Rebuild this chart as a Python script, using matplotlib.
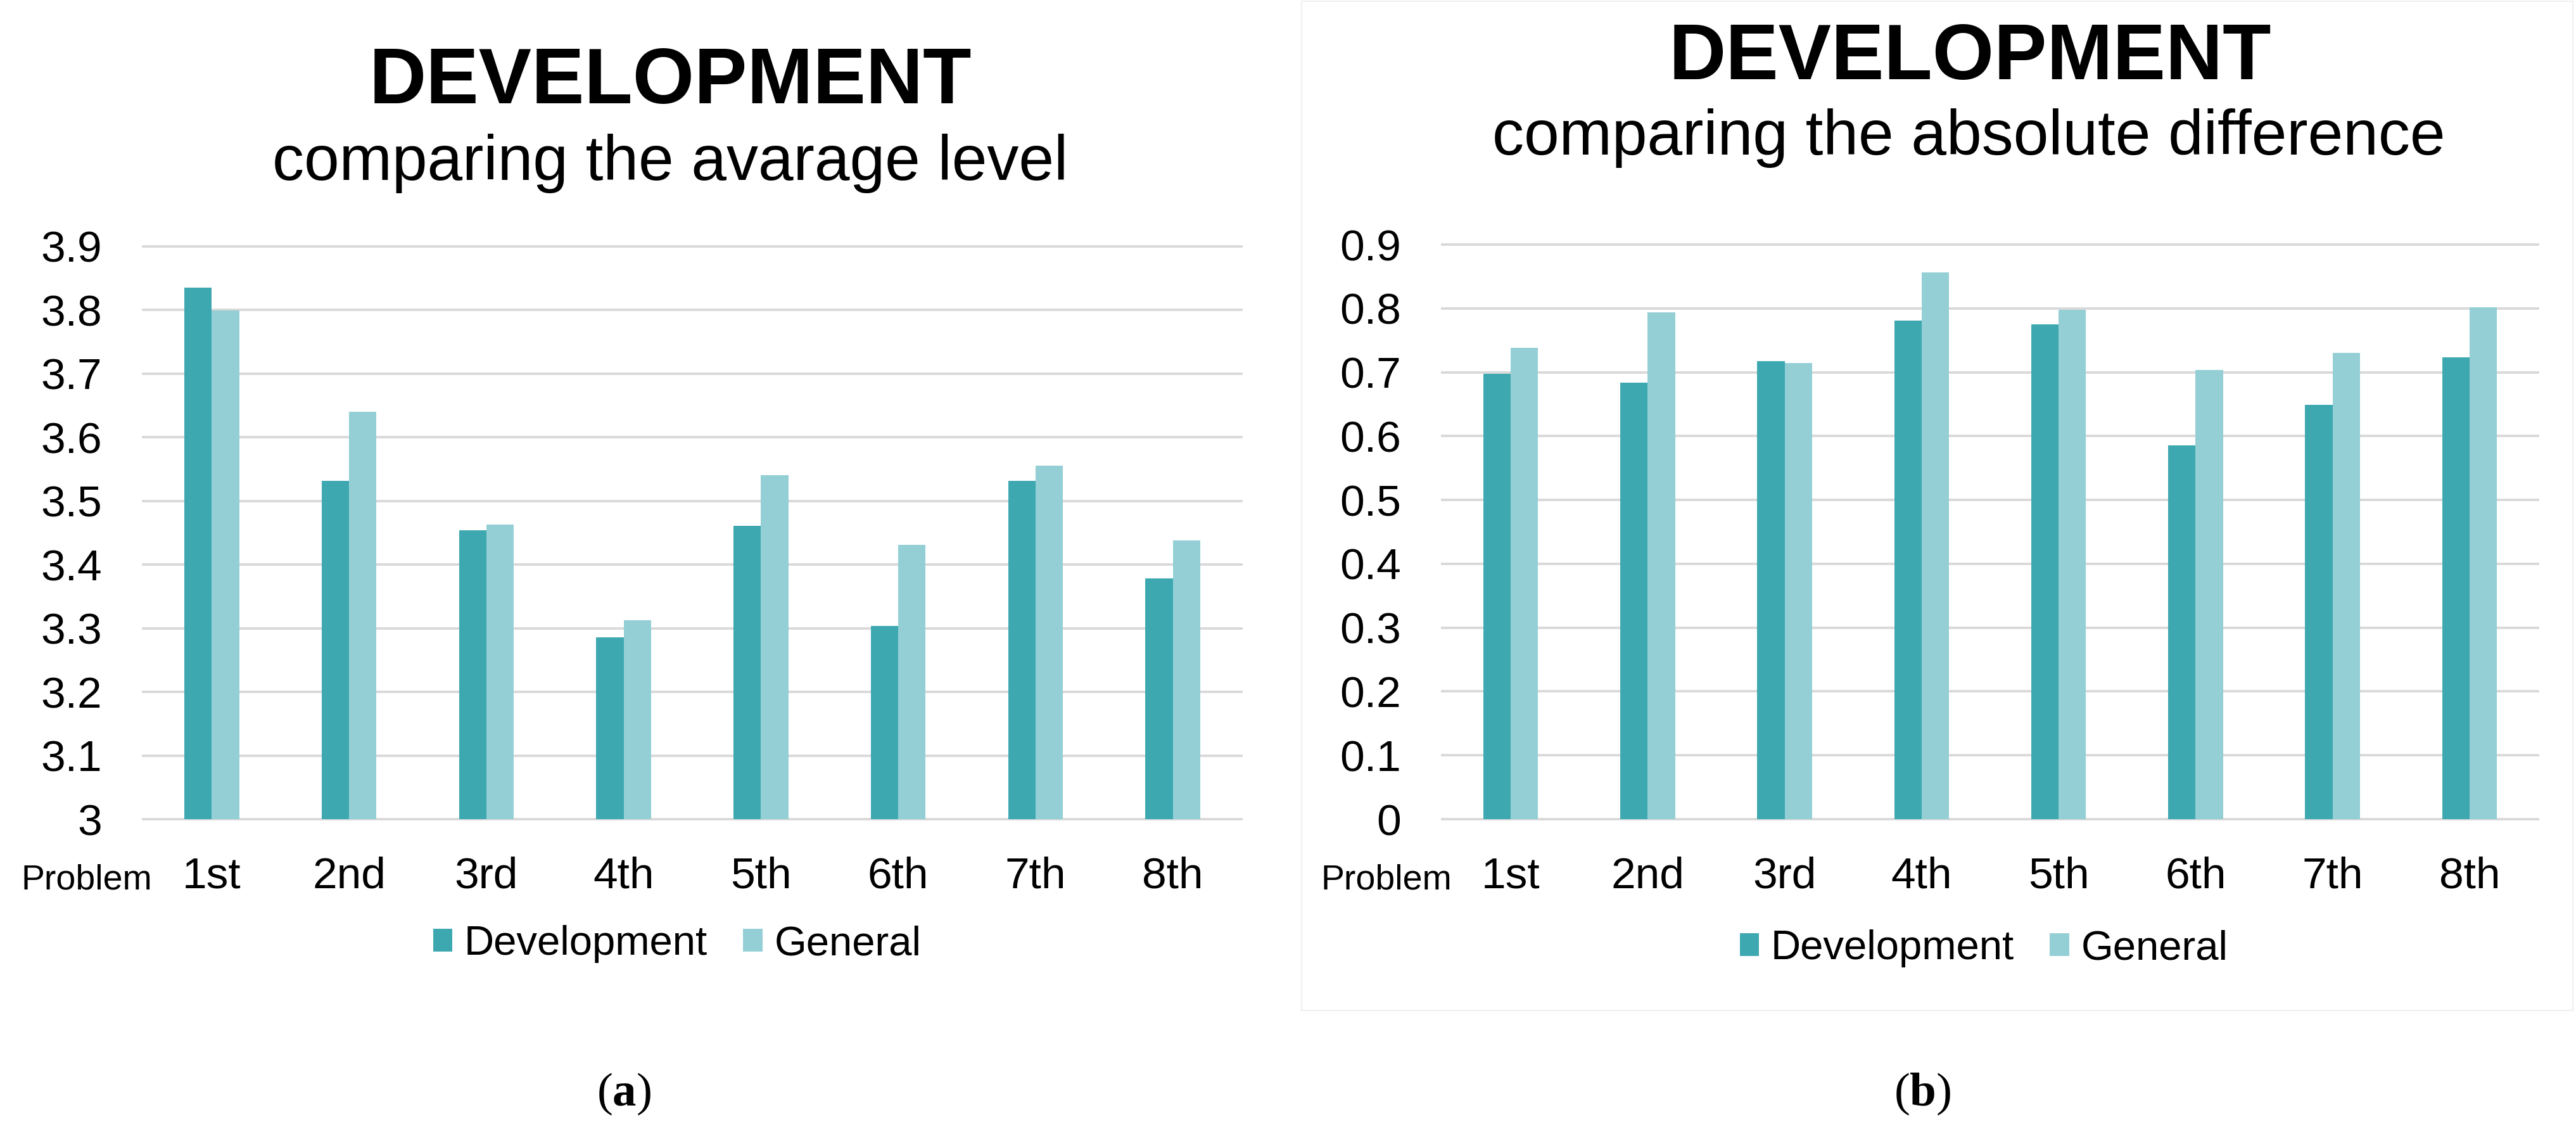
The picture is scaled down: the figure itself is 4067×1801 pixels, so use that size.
import matplotlib
matplotlib.use('Agg')
import matplotlib.pyplot as plt
import numpy as np
from matplotlib.patches import Rectangle

# ---------------- data ----------------
categories = ['1st', '2nd', '3rd', '4th', '5th', '6th', '7th', '8th']
series_names = ['Development', 'General']

avg_development = [3.835, 3.532, 3.454, 3.286, 3.461, 3.304, 3.532, 3.378]
avg_general = [3.799, 3.640, 3.463, 3.313, 3.541, 3.431, 3.556, 3.438]

absdiff_development = [0.698, 0.684, 0.717, 0.781, 0.775, 0.585, 0.649, 0.723]
absdiff_general = [0.738, 0.794, 0.714, 0.856, 0.798, 0.704, 0.730, 0.802]

avg_yticks = [3.0, 3.1, 3.2, 3.3, 3.4, 3.5, 3.6, 3.7, 3.8, 3.9]
avg_yticklabels = ['3', '3.1', '3.2', '3.3', '3.4', '3.5', '3.6', '3.7', '3.8', '3.9']
abs_yticks = [0.0, 0.1, 0.2, 0.3, 0.4, 0.5, 0.6, 0.7, 0.8, 0.9]
abs_yticklabels = ['0', '0.1', '0.2', '0.3', '0.4', '0.5', '0.6', '0.7', '0.8', '0.9']

main_title = 'DEVELOPMENT'
subtitles = ['comparing the avarage level', 'comparing the absolute difference']
axis_word = 'Problem'
panel_letters = ['a', 'b']

# ---------------- style ----------------
plt.rcParams['font.family'] = ['Liberation Sans', 'DejaVu Sans']
plt.rcParams['mathtext.fontset'] = 'custom'
plt.rcParams['mathtext.rm'] = 'Liberation Serif'
plt.rcParams['mathtext.bf'] = 'Liberation Serif:bold'

DEV = '#3EA8B1'
GEN = '#94CFD6'
GRID = '#D9D9D9'

W, H = 4067, 1801
fig = plt.figure(figsize=(W / 100, H / 100), dpi=100)


def fx(px):
    return px / W


def fy(py):
    return 1 - py / H


# faint chart-area border of the right panel
fig.patches.append(Rectangle((fx(2055), fy(1595)), fx(4062) - fx(2055), fy(2) - fy(1595),
                             transform=fig.transFigure, fill=False,
                             edgecolor='#EFEFEF', lw=1.5))


def draw_panel(rect, dev, gen, yticks, ylabels):
    ax = fig.add_axes(rect)
    x = np.arange(len(categories))
    ax.bar(x - 0.1, dev, width=0.2, color=DEV, zorder=3, label=series_names[0])
    ax.bar(x + 0.1, gen, width=0.2, color=GEN, zorder=3, label=series_names[1])
    ax.set_xlim(-0.5, len(categories) - 0.5)
    ax.set_ylim(yticks[0], yticks[-1])
    ax.set_yticks(yticks)
    ax.set_yticklabels(ylabels)
    ax.set_xticks(x)
    ax.set_xticklabels(categories)
    for s in ax.spines.values():
        s.set_visible(False)
    ax.set_axisbelow(True)
    ax.yaxis.grid(True, color=GRID, lw=2.8)
    for gl in ax.get_ygridlines():
        gl.set_clip_on(False)
    ax.tick_params(axis='y', length=0, labelsize=50, pad=47)
    ax.tick_params(axis='x', length=0, labelsize=50, pad=42)
    return ax


axL = draw_panel([fx(226), fy(1293), fx(1960) - fx(226), fy(389) - fy(1293)],
                 avg_development, avg_general, avg_yticks, avg_yticklabels)
axR = draw_panel([fx(2277), fy(1293), fx(4007) - fx(2277), fy(386) - fy(1293)],
                 absdiff_development, absdiff_general, abs_yticks, abs_yticklabels)

# titles
fig.text(fx(1058), fy(163), main_title, fontsize=90, fontweight='bold', ha='center', va='baseline')
fig.text(fx(1058), fy(284), subtitles[0], fontsize=72, ha='center', va='baseline')
fig.text(fx(3110), fy(125), main_title, fontsize=90, fontweight='bold', ha='center', va='baseline')
fig.text(fx(3108), fy(244), subtitles[1], fontsize=72, ha='center', va='baseline')

# "Problem" word in front of category labels
fig.text(fx(33), fy(1404), axis_word, fontsize=40, ha='left', va='baseline')
fig.text(fx(2085), fy(1404), axis_word, fontsize=40, ha='left', va='baseline')

# legends
for ax, cx, cy in [(axL, 1069, 1490), (axR, 3132, 1497)]:
    h, l = ax.get_legend_handles_labels()
    fig.legend(h, l, loc='center', bbox_to_anchor=(fx(cx), fy(cy)), ncol=2, frameon=False,
               fontsize=47, handlelength=0.47, handleheight=0.47, handletextpad=0.28,
               columnspacing=0.87, borderpad=0, borderaxespad=0)

# panel letters
for letter, cx in zip(panel_letters, [985, 3035]):
    fig.text(fx(cx), fy(1727), r'$\mathrm{(}\mathbf{%s}\mathrm{)}$' % letter, fontsize=54,
             ha='center', va='center')

fig.savefig('out.png', dpi=100, facecolor='white')
